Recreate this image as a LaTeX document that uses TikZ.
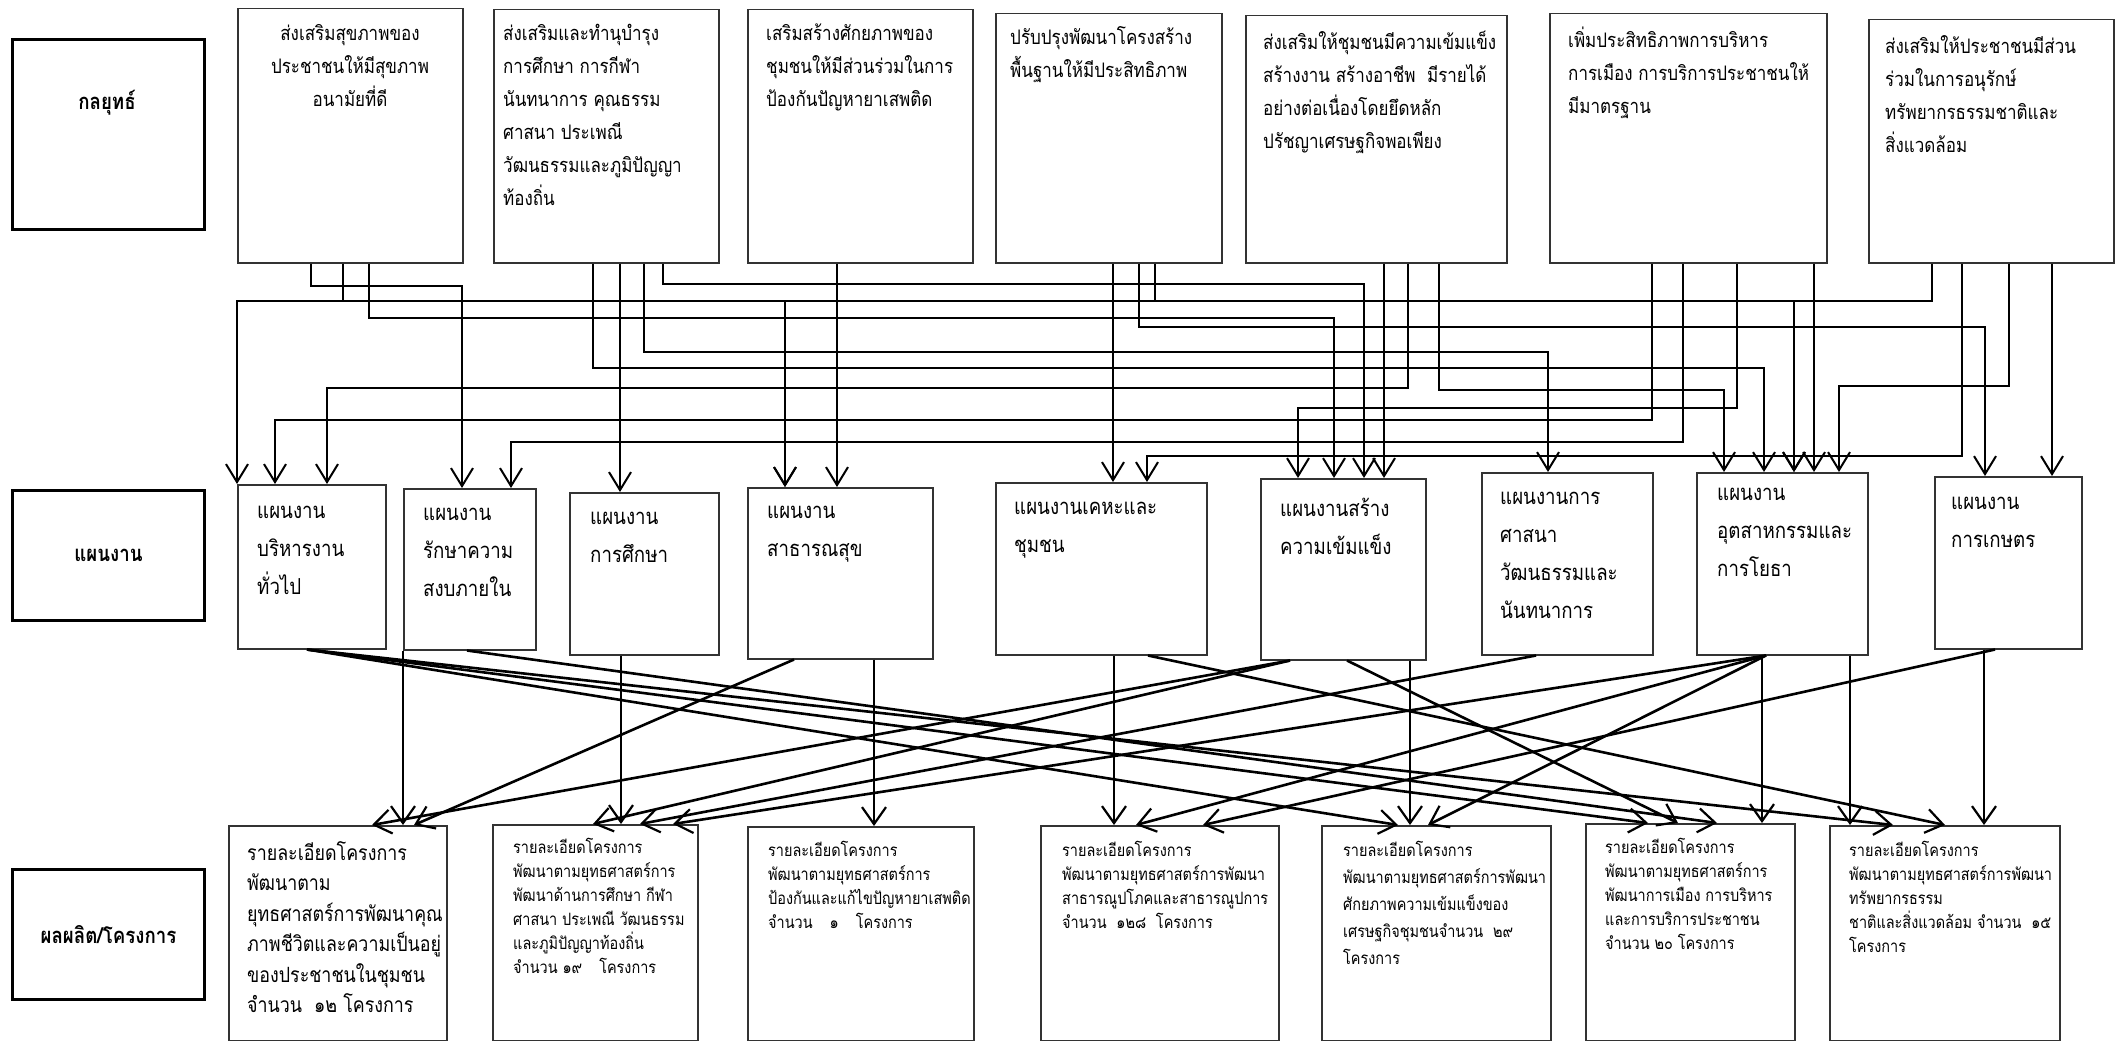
\documentclass[tikz,border=0pt]{standalone}
\usepackage{fontspec}
\newfontfamily\thai[Script=Thai,FakeStretch=0.85]{Loma}
\usetikzlibrary{arrows.meta}
\tikzset{
  box/.style={draw=black!80,line width=1.5pt,inner sep=0pt},
  lbox/.style={draw=black,line width=3pt,inner sep=0pt,font={\thai\bfseries\fontsize{22}{26}\selectfont}},
  ltxt/.style={inner sep=0pt,font={\thai\bfseries\fontsize{22}{26}\selectfont}},
  stxt/.style={font={\thai\fontsize{20}{33}\selectfont},align=left,inner sep=0pt,anchor=north west},
  ptxt/.style={font={\thai\fontsize{22}{38}\selectfont},align=left,inner sep=0pt,anchor=north west},
  oatxt/.style={font={\thai\fontsize{21}{30.5}\selectfont},align=left,inner sep=0pt,anchor=north west},
  otxt/.style={font={\thai\fontsize{17}{24}\selectfont},align=left,inner sep=0pt,anchor=north west},
  conn/.style={line width=2.3pt,-{Straight Barb[length=18pt,width=22pt,line width=2pt]}},
  lconn/.style={line width=2.6pt,-{Straight Barb[length=17pt,width=24pt,line width=2.2pt]}}
}
\newcommand\bx[6]{\node[#6,anchor=north west,minimum width={(#4-#2)*1pt},minimum height={(#5-#3)*1pt}] (#1) at (#2,#3) {};}
\begin{document}
\begin{tikzpicture}[x=1pt,y=-1pt]
\fill[white] (0,0) rectangle (2125,1041);
\useasboundingbox (0,0) rectangle (2125,1041);
% label boxes
\bx{L1}{11}{38}{203}{228}{lbox}
\node[ltxt] (L1t) at (107,103) {กลยุทธ์};
\node[lbox,anchor=north west,minimum width=192pt,minimum height=130pt] (L2) at (11,489) {แผนงาน};
\node[lbox,anchor=north west,minimum width=192pt,minimum height=130pt] (L3) at (11,868) {ผลผลิต/โครงการ};
% strategy boxes
\bx{S1}{237}{8}{462}{262}{box}
\bx{S2}{493}{9}{718}{262}{box}
\bx{S3}{747}{9}{972}{262}{box}
\bx{S4}{995}{13}{1221}{262}{box}
\bx{S5}{1245}{15}{1506}{262}{box}
\bx{S6}{1549}{13}{1826}{262}{box}
\bx{S7}{1868}{19}{2113}{262}{box}
\node[stxt,anchor=north,align=center] (S1t) at (350,24) {ส่งเสริมสุขภาพของ\\ประชาชนให้มีสุขภาพ\\อนามัยที่ดี};
\node[stxt] (S2t) at (503,24) {ส่งเสริมและทำนุบำรุง\\การศึกษา การกีฬา\\นันทนาการ คุณธรรม\\ศาสนา ประเพณี\\วัฒนธรรมและภูมิปัญญา\\ท้องถิ่น};
\node[stxt] (S3t) at (766,24) {เสริมสร้างศักยภาพของ\\ชุมชนให้มีส่วนร่วมในการ\\ป้องกันปัญหายาเสพติด};
\node[stxt] (S4t) at (1010,26) {ปรับปรุงพัฒนาโครงสร้าง\\พื้นฐานให้มีประสิทธิภาพ};
\node[stxt] (S5t) at (1263,31) {ส่งเสริมให้ชุมชนมีความเข้มแข็ง\\สร้างงาน สร้างอาชีพ\ \ มีรายได้\\อย่างต่อเนื่องโดยยึดหลัก\\ปรัชญาเศรษฐกิจพอเพียง};
\node[stxt] (S6t) at (1568,27) {เพิ่มประสิทธิภาพการบริหาร\\การเมือง การบริการประชาชนให้\\มีมาตรฐาน};
\node[stxt] (S7t) at (1885,35) {ส่งเสริมให้ประชาชนมีส่วน\\ร่วมในการอนุรักษ์\\ทรัพยากรธรรมชาติและ\\สิ่งแวดล้อม};
% plan boxes
\bx{P1}{237}{484}{385}{648}{box}
\bx{P2}{403}{488}{535}{649}{box}
\bx{P3}{569}{492}{718}{654}{box}
\bx{P4}{747}{487}{932}{658}{box}
\bx{P5}{995}{482}{1206}{654}{box}
\bx{P6}{1260}{478}{1425}{659}{box}
\bx{P7}{1481}{472}{1652}{654}{box}
\bx{P8}{1696}{472}{1867}{654}{box}
\bx{P9}{1934}{476}{2081}{648}{box}
\node[ptxt] (P1t) at (257,506) {แผนงาน\\บริหารงาน\\ทั่วไป};
\node[ptxt] (P2t) at (423,508) {แผนงาน\\รักษาความ\\สงบภายใน};
\node[ptxt] (P3t) at (590,512) {แผนงาน\\การศึกษา};
\node[ptxt] (P4t) at (767,506) {แผนงาน\\สาธารณสุข};
\node[ptxt] (P5t) at (1014,502) {แผนงานเคหะและ\\ชุมชน};
\node[ptxt] (P6t) at (1280,498) {แผนงานสร้าง\\ความเข้มแข็ง};
\node[ptxt] (P7t) at (1500,492) {แผนงานการ\\ศาสนา\\วัฒนธรรมและ\\นันทนาการ};
\node[ptxt] (P8t) at (1717,488) {แผนงาน\\อุตสาหกรรมและ\\การโยธา};
\node[ptxt] (P9t) at (1951,497) {แผนงาน\\การเกษตร};
% output boxes
\bx{O1}{228}{825}{446}{1040}{box}
\bx{O2}{492}{824}{697}{1040}{box}
\bx{O3}{747}{826}{973}{1040}{box}
\bx{O4}{1040}{825}{1278}{1040}{box}
\bx{O5}{1321}{825}{1550}{1040}{box}
\bx{O6}{1585}{823}{1794}{1040}{box}
\bx{O7}{1829}{825}{2059}{1040}{box}
\node[oatxt] (O1t) at (247,841) {รายละเอียดโครงการ\\พัฒนาตาม\\ยุทธศาสตร์การพัฒนาคุณ\\ภาพชีวิตและความเป็นอยู่\\ของประชาชนในชุมชน\\จำนวน\ \ ๑๒ โครงการ};
\node[otxt] (O2t) at (513,838) {รายละเอียดโครงการ\\พัฒนาตามยุทธศาสตร์การ\\พัฒนาด้านการศึกษา กีฬา\\ศาสนา ประเพณี วัฒนธรรม\\และภูมิปัญญาท้องถิ่น\\จำนวน ๑๙\quad โครงการ};
\node[otxt] (O3t) at (768,841) {รายละเอียดโครงการ\\พัฒนาตามยุทธศาสตร์การ\\ป้องกันและแก้ไขปัญหายาเสพติด\\จำนวน\quad ๑\quad โครงการ};
\node[otxt] (O4t) at (1062,841) {รายละเอียดโครงการ\\พัฒนาตามยุทธศาสตร์การพัฒนา\\สาธารณูปโภคและสาธารณูปการ\\จำนวน\ \ ๑๒๘\ \ โครงการ};
\node[otxt,font={\thai\fontsize{17}{27}\selectfont}] (O5t) at (1343,841) {รายละเอียดโครงการ\\พัฒนาตามยุทธศาสตร์การพัฒนา\\ศักยภาพความเข้มแข็งของ\\เศรษฐกิจชุมชนจำนวน\ \ ๒๙\\โครงการ};
\node[otxt] (O6t) at (1605,838) {รายละเอียดโครงการ\\พัฒนาตามยุทธศาสตร์การ\\พัฒนาการเมือง การบริหาร\\และการบริการประชาชน\\จำนวน ๒๐ โครงการ};
\node[otxt] (O7t) at (1849,841) {รายละเอียดโครงการ\\พัฒนาตามยุทธศาสตร์การพัฒนา\\ทรัพยากรธรรม\\ชาติและสิ่งแวดล้อม จำนวน\ \ ๑๕\\โครงการ};
% upper connectors
\draw[conn] (311,0 |- S1.south) |- (462,286) -- (462,0 |- P2.north);
\draw[conn] (343,0 |- S1.south) |- (237,301) -- (237,0 |- P1.north);
\draw[conn] (343,0 |- S1.south) |- (785,301) -- (785,0 |- P4.north);
\draw[conn] (369,0 |- S1.south) |- (1334,318) -- (1334,0 |- P6.north);
\draw[conn] (593,0 |- S2.south) |- (1764,368) -- (1764,0 |- P8.north);
\draw[conn] (620,0 |- S2.south) -- (620,0 |- P3.north);
\draw[conn] (644,0 |- S2.south) |- (1548,352) -- (1548,0 |- P7.north);
\draw[conn] (663,0 |- S2.south) |- (1364,284) -- (1364,0 |- P6.north);
\draw[conn] (837,0 |- S3.south) -- (837,0 |- P4.north);
\draw[conn] (1113,0 |- S4.south) -- (1113,0 |- P5.north);
\draw[conn] (1139,0 |- S4.south) |- (1985,327) -- (1985,0 |- P9.north);
\draw[conn] (1155,0 |- S4.south) |- (785,301) -- (785,0 |- P4.north);
\draw[conn] (1155,0 |- S4.south) |- (1794,301) -- (1794,0 |- P8.north);
\draw[conn] (1384,0 |- S5.south) -- (1384,0 |- P6.north);
\draw[conn] (1408,0 |- S5.south) |- (327,388) -- (327,0 |- P1.north);
\draw[conn] (1439,0 |- S5.south) |- (1724,390) -- (1724,0 |- P8.north);
\draw[conn] (1652,0 |- S6.south) |- (275,420) -- (275,0 |- P1.north);
\draw[conn] (1683,0 |- S6.south) |- (511,442) -- (511,0 |- P2.north);
\draw[conn] (1737,0 |- S6.south) |- (1298,408) -- (1298,0 |- P6.north);
\draw[conn] (1814,0 |- S6.south) -- (1814,0 |- P8.north);
\draw[conn] (1932,0 |- S7.south) |- (1794,301) -- (1794,0 |- P8.north);
\draw[conn] (1962,0 |- S7.south) |- (1147,456) -- (1147,0 |- P5.north);
\draw[conn] (2009,0 |- S7.south) |- (1839,386) -- (1839,0 |- P8.north);
\draw[conn] (2052,0 |- S7.south) -- (2052,0 |- P9.north);
% lower connectors
\draw[lconn] (307,0 |- P1.south) -- (1398,0 |- O5.north);
\draw[lconn] (307,0 |- P1.south) -- (1648,0 |- O6.north);
\draw[lconn] (307,0 |- P1.south) -- (1893,0 |- O7.north);
\draw[lconn] (403,0 |- P2.south) -- (403,0 |- O1.north);
\draw[lconn] (467,0 |- P2.south) -- (1717,0 |- O6.north);
\draw[lconn] (621,0 |- P3.south) -- (621,0 |- O2.north);
\draw[lconn] (794,0 |- P4.south) -- (414,0 |- O1.north);
\draw[lconn] (874,0 |- P4.south) -- (874,0 |- O3.north);
\draw[lconn] (1114,0 |- P5.south) -- (1114,0 |- O4.north);
\draw[lconn] (1148,0 |- P5.south) -- (1945,0 |- O7.north);
\draw[lconn] (1290,0 |- P6.south) -- (372,0 |- O1.north);
\draw[lconn] (1290,0 |- P6.south) -- (593,0 |- O2.north);
\draw[lconn] (1347,0 |- P6.south) -- (1678,0 |- O6.north);
\draw[lconn] (1410,0 |- P6.south) -- (1410,0 |- O5.north);
\draw[lconn] (1536,0 |- P7.south) -- (640,0 |- O2.north);
\draw[lconn] (1766,0 |- P8.south) -- (673,0 |- O2.north);
\draw[lconn] (1766,0 |- P8.south) -- (1136,0 |- O4.north);
\draw[lconn] (1766,0 |- P8.south) -- (1428,0 |- O5.north);
\draw[lconn] (1762,0 |- P8.south) -- (1762,0 |- O6.north);
\draw[lconn] (1850,0 |- P8.south) -- (1850,0 |- O7.north);
\draw[lconn] (1995,0 |- P9.south) -- (1203,0 |- O4.north);
\draw[lconn] (1984,0 |- P9.south) -- (1984,0 |- O7.north);
\end{tikzpicture}
\end{document}
